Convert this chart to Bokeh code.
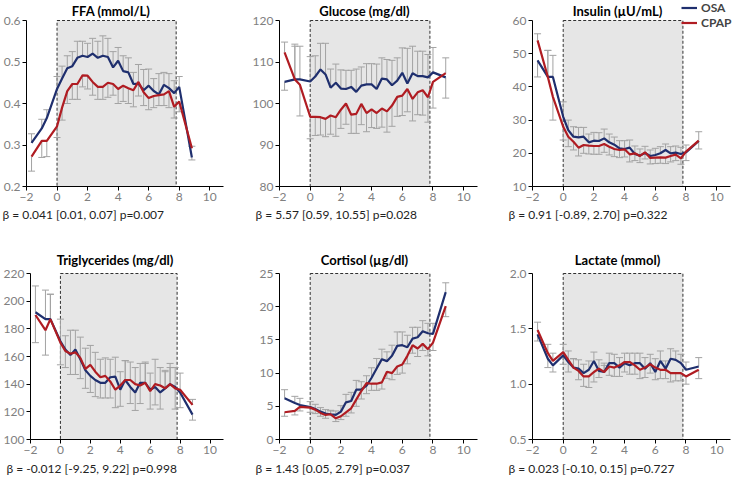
from bokeh.plotting import figure
from bokeh.layouts import column, row
from bokeh.models import (BoxAnnotation, Label, FixedTicker, PrintfTickFormatter,
                          Range1d, Legend, LegendItem, Title)
from bokeh.embed import file_html
from bokeh.resources import INLINE

# ---------------- data ----------------
hours = [-1.67, -1, -0.67, 0, 0.33, 0.67, 1, 1.33, 1.67, 2, 2.33, 2.67, 3, 3.33, 3.67,
         4, 4.33, 4.67, 5, 5.33, 5.67, 6, 6.33, 6.67, 7, 7.33, 7.67, 8, 8.83]
sleep_start = 0
sleep_end = 7.8
x_ticks = [-2, 0, 2, 4, 6, 8, 10]
x_min, x_max = -2, 10.9

ffa_title = "FFA (mmol/L)"
ffa_beta = "β = 0.041 [0.01, 0.07] p=0.007"
ffa_ticks = [0.2, 0.3, 0.4, 0.5, 0.6]
ffa_osa = [0.305, 0.34, 0.365, 0.435, 0.46, 0.485, 0.49, 0.51, 0.515, 0.512, 0.52, 0.51, 0.515, 0.512, 0.487,
           0.503, 0.478, 0.475, 0.447, 0.448, 0.432, 0.443, 0.43, 0.422, 0.445, 0.437, 0.425, 0.44, 0.27]
ffa_cpap = [0.272, 0.31, 0.31, 0.345, 0.39, 0.43, 0.447, 0.447, 0.468, 0.467, 0.452, 0.44, 0.44, 0.45, 0.447,
            0.435, 0.443, 0.437, 0.432, 0.452, 0.427, 0.413, 0.418, 0.42, 0.422, 0.43, 0.392, 0.405, 0.292]
ffa_osa_se = [0.022, 0.022, 0.02, 0.03, 0.03, 0.03, 0.035, 0.04, 0.035, 0.033, 0.037, 0.04, 0.048, 0.045, 0.038,
              0.032, 0.037, 0.035, 0.028, 0.03, 0.05, 0.04, 0.03, 0.05, 0.03, 0.035, 0.03, 0.025, 0.006]
ffa_cpap_se = [0.035, 0.04, 0.038, 0.027, 0.03, 0.03, 0.037, 0.037, 0.028, 0.032, 0.032, 0.03, 0.03, 0.035, 0.027,
               0.035, 0.038, 0.037, 0.04, 0.042, 0.032, 0.028, 0.028, 0.025, 0.027, 0.04, 0.027, 0.025, 0.005]

glu_title = "Glucose (mg/dl)"
glu_beta = "β = 5.57 [0.59, 10.55] p=0.028"
glu_ticks = [80, 90, 100, 110, 120]
glu_osa = [105.2, 105.8, 105.8, 105.3, 106.5, 108.2, 107, 103.8, 105, 103.6, 103.5, 104, 102.8, 104.3, 104.6,
           104.6, 103.5, 106, 105.8, 104.4, 105.5, 107.4, 104.8, 107.3, 106.6, 106.6, 106.3, 107.5, 106.3]
glu_cpap = [112.3, 105.8, 104.5, 96.8, 96.8, 96.7, 96.3, 97.1, 96.7, 98.5, 100, 97.3, 97.5, 99.9, 97.7,
            98.6, 97.7, 98.8, 98.1, 99.5, 101.6, 101.9, 103.5, 101.1, 102.7, 103.2, 101.5, 105.2, 107.3]
glu_osa_se = [2, 8, 8, 6, 5, 6.3, 7.5, 4.5, 4.5, 4.5, 4.5, 4, 5.5, 4.5, 5,
              5, 6, 5, 4.8, 6, 5.5, 6, 8.5, 6.5, 6, 6, 5.5, 6, 5]
glu_cpap_se = [2.5, 8.5, 7.5, 5.3, 4.5, 4.3, 4.3, 4.5, 4.6, 4.5, 5, 4.5, 4.7, 5, 4.5,
               4.4, 3.7, 4.5, 5, 5, 4.7, 4.8, 5.5, 5.3, 5.4, 6, 6, 6.3, 3.7]

ins_title = "Insulin (µU/mL)"
ins_beta = "β = 0.91 [-0.89, 2.70] p=0.322"
ins_ticks = [10, 20, 30, 40, 50, 60]
ins_osa = [48, 43, 43, 31, 27, 25, 24.8, 25, 23.3, 23.8, 23.7, 24.5, 23.3, 22.6, 21.5,
           21.3, 21.7, 19.8, 19.3, 20.1, 19.2, 19.5, 20, 21, 20, 20.2, 19.8, 20.3, 23.7]
ins_cpap = [54, 43, 37, 28, 25, 23.5, 21.7, 22.5, 22.3, 22.2, 22.2, 22.8, 22, 21.3, 21,
            21.2, 19.7, 20, 19.2, 20.3, 18.6, 18.7, 18.8, 18.7, 19.2, 19.6, 18.5, 20.5, 23.8]
ins_osa_se = [5, 8, 6.5, 4.5, 3, 3, 3, 2.8, 2.5, 2.5, 2.5, 2.8, 2.5, 2.3, 2.3,
              2.5, 2.3, 2, 2, 1.8, 1.8, 2, 2, 1.8, 2, 2, 2, 2.5, 2.4]
ins_cpap_se = [2, 8, 7, 4, 3, 2.5, 2.5, 2.5, 2.5, 2.5, 2.5, 2.5, 2.5, 2.3, 2.3,
               2.3, 2.3, 2.2, 2, 1.8, 1.8, 1.8, 1.8, 1.8, 1.8, 1.8, 1.8, 2, 2.7]

tg_title = "Triglycerides (mg/dl)"
tg_beta = "β = -0.012 [-9.25, 9.22] p=0.998"
tg_ticks = [100, 120, 140, 160, 180, 200, 220]
tg_osa = [192, 187, 187, 171, 165, 161, 165, 158, 150, 146, 143, 141, 141, 145, 145.5,
          136, 143, 138, 134, 141, 141, 136, 138, 134, 137, 140, 138, 134, 118]
tg_cpap = [190, 179, 187, 170, 164, 162, 163, 159, 151, 154, 149, 145, 146, 142, 136,
           139, 143, 143, 140, 139, 141, 135, 140, 139, 137, 140, 137, 136, 125]
tg_osa_se = [19, 21, 18, 16, 10, 14, 14, 14, 13, 12, 12, 11, 11, 13, 14,
             12, 14, 12, 13, 14, 15, 12, 13, 12, 12, 12, 14, 11, 4]
tg_cpap_se = [20, 18, 18, 16, 12, 17, 16, 15, 15, 14, 14, 13, 13, 12, 13,
              10, 14, 13, 12, 13, 14, 13, 18, 13, 13, 15, 15, 12, 4]

cor_title = "Cortisol (µg/dl)"
cor_beta = "β = 1.43 [0.05, 2.79] p=0.037"
cor_ticks = [0, 5, 10, 15, 20, 25]
cor_osa = [6.2, 5.5, 5.2, 4.9, 4.6, 4.2, 3.9, 3.8, 3.7, 4.2, 5.6, 5.8, 7.5, 7.5, 8.1,
           9.3, 10.7, 12.1, 11.8, 12.6, 14.1, 14.2, 13.9, 15.2, 15.4, 16.3, 16.0, 15.9, 22.2]
cor_cpap = [4.1, 4.3, 4.9, 4.8, 4.5, 4.0, 3.7, 3.8, 3.2, 3.5, 4.1, 4.7, 6.0, 7.3, 8.5,
            8.4, 8.4, 8.6, 10.2, 10.0, 11.0, 11.3, 12.6, 14.2, 13.7, 14.4, 13.6, 14.6, 20.1]
cor_osa_se = [1.3, 1.0, 1.0, 0.8, 0.7, 0.6, 0.6, 0.6, 0.6, 0.9, 1.2, 1.3, 1.4, 1.2, 1.2,
              1.5, 1.5, 1.5, 1.4, 1.6, 2.1, 2.0, 1.8, 1.7, 1.5, 1.6, 1.5, 1.6, 1.4]
cor_cpap_se = [0.6, 0.6, 0.6, 0.7, 0.6, 0.5, 0.5, 0.5, 0.5, 0.5, 0.6, 0.7, 1.0, 1.2, 1.1,
               1.0, 1.0, 1.0, 1.0, 1.0, 1.2, 1.3, 1.2, 1.2, 1.2, 1.0, 1.0, 1.2, 1.6]

lac_title = "Lactate (mmol)"
lac_beta = "β = 0.023 [-0.10, 0.15] p=0.727"
lac_ticks = [0.5, 1.0, 1.5, 2.0]
lac_osa = [1.45, 1.23, 1.17, 1.26, 1.20, 1.15, 1.14, 1.10, 1.13, 1.21, 1.12, 1.11, 1.19, 1.19, 1.15,
           1.19, 1.17, 1.19, 1.19, 1.14, 1.19, 1.11, 1.21, 1.14, 1.23, 1.22, 1.19, 1.13, 1.16]
lac_cpap = [1.49, 1.28, 1.21, 1.29, 1.22, 1.15, 1.12, 1.07, 1.07, 1.11, 1.14, 1.11, 1.16, 1.15, 1.17,
            1.20, 1.20, 1.17, 1.13, 1.15, 1.18, 1.15, 1.13, 1.13, 1.10, 1.10, 1.10, 1.07, 1.13]
lac_osa_se = [0.06, 0.08, 0.06, 0.08, 0.09, 0.08, 0.08, 0.08, 0.08, 0.08, 0.06, 0.06, 0.09, 0.08, 0.08,
              0.08, 0.08, 0.09, 0.09, 0.08, 0.08, 0.07, 0.09, 0.07, 0.09, 0.08, 0.08, 0.07, 0.08]
lac_cpap_se = [0.07, 0.08, 0.07, 0.07, 0.08, 0.08, 0.08, 0.09, 0.1, 0.09, 0.08, 0.08, 0.08, 0.08, 0.07,
               0.08, 0.08, 0.08, 0.08, 0.09, 0.08, 0.08, 0.08, 0.08, 0.08, 0.07, 0.07, 0.07, 0.08]

series_names = ["OSA", "CPAP"]

# ---------------- style ----------------
FONT = "Lato"
BLUE = "#1f2f6e"
RED = "#b01c22"
ERR = "#a3a3a3"
SHADE = "#e6e6e6"
DATA_H = 166  # pixel height of the data area of every panel
LEG_ROW = 13


def panel(title, beta, ticks, fmt, osa, cpap, osa_se, cpap_se, width, height,
          b_left, b_right, ext_top, ext_right, title_dy, beta_standoff, legend=False):
    # The frame extends ext_top px above the data area (so that the title and the
    # legend can live inside the frame); the axes are bounded to the data area.
    b_bottom = height - DATA_H - ext_top
    frame_w = width - b_left - b_right
    data_w = frame_w - ext_right
    y0, y1 = ticks[0], ticks[-1]
    y_end = y1 + (y1 - y0) * ext_top / DATA_H
    x_end = x_max + (x_max - x_min) * ext_right / data_w
    p = figure(width=width, height=height, output_backend="svg", toolbar_location=None,
               x_range=Range1d(x_min, x_end), y_range=Range1d(y0, y_end),
               min_border_left=b_left, min_border_right=b_right,
               min_border_top=0, min_border_bottom=b_bottom)
    p.title.visible = False
    p.outline_line_color = None
    p.grid.visible = False
    p.background_fill_color = "white"
    p.border_fill_color = "white"

    p.add_layout(BoxAnnotation(left=sleep_start, right=sleep_end, bottom=y0, top=y1,
                               fill_color=SHADE, fill_alpha=1,
                               line_color="#303030", line_alpha=1, line_dash="3 2",
                               line_width=1, level="underlay"))

    # one-sided error bars pointing away from the other series
    for vals, se, other in ((osa, osa_se, cpap), (cpap, cpap_se, osa)):
        ends = []
        for v, e, o in zip(vals, se, other):
            ends.append(v + e if v >= o else v - e)
        p.segment(x0=hours, y0=vals, x1=hours, y1=ends, line_color=ERR, line_width=1)
        p.scatter(x=hours, y=ends, marker="dash", size=7, line_color=ERR, line_width=1)

    r_osa = p.line(hours, osa, line_color=BLUE, line_width=2.2)
    r_cpap = p.line(hours, cpap, line_color=RED, line_width=2.2)

    for ax in (p.xaxis[0], p.yaxis[0]):
        ax.axis_line_color = "#000000"
        ax.major_tick_line_color = "#000000"
        ax.major_tick_out = 4
        ax.major_tick_in = 0
        ax.minor_tick_line_color = None
        ax.major_label_text_color = "#808080"
        ax.major_label_text_font = FONT
        ax.major_label_text_font_size = "12px"
        ax.major_label_standoff = 2
    p.xaxis.bounds = (x_min, x_max)
    p.yaxis.bounds = (y0, y1)
    p.xaxis.ticker = FixedTicker(ticks=x_ticks)
    p.yaxis.ticker = FixedTicker(ticks=ticks)
    if fmt:
        p.yaxis.formatter = PrintfTickFormatter(format=fmt)

    p.add_layout(Label(x=data_w / 2 - 14, y=DATA_H + ext_top - title_dy,
                       x_units="screen", y_units="screen",
                       text=title, text_align="center", text_baseline="middle",
                       text_font=FONT, text_font_size="13px", text_font_style="bold",
                       text_color="#000000"))
    p.add_layout(Title(text=beta, align="left", offset=-24, standoff=beta_standoff,
                       text_font=FONT, text_font_size="12px", text_font_style="normal",
                       text_color="#222222"), "below")

    if legend:
        lg = Legend(items=[LegendItem(label=series_names[0], renderers=[r_osa]),
                           LegendItem(label=series_names[1], renderers=[r_cpap])],
                    location=(data_w - 49, DATA_H + ext_top - 4 - 2 * LEG_ROW),
                    orientation="vertical",
                    label_text_font=FONT, label_text_font_size="12px", label_text_font_style="bold",
                    label_height=LEG_ROW, glyph_height=LEG_ROW, glyph_width=16, label_standoff=4,
                    spacing=0, padding=0, margin=0, border_line_color=None,
                    background_fill_alpha=0)
        p.add_layout(lg, "center")
    return p


W1, W2, W3 = 245, 253, 241
H1, H2 = 238, 239

p1 = panel(ffa_title, ffa_beta, ffa_ticks, "%.1f", ffa_osa, ffa_cpap, ffa_osa_se, ffa_cpap_se,
           W1, H1, 26, 22, 20, 0, 10, 2)
p2 = panel(glu_title, glu_beta, glu_ticks, None, glu_osa, glu_cpap, glu_osa_se, glu_cpap_se,
           W2, H1, 34, 21, 20, 0, 10, 2)
p3 = panel(ins_title, ins_beta, ins_ticks, None, ins_osa, ins_cpap, ins_osa_se, ins_cpap_se,
           W3, H1, 34, 0, 20, 9, 10, 2, legend=True)
p4 = panel(tg_title, tg_beta, tg_ticks, None, tg_osa, tg_cpap, tg_osa_se, tg_cpap_se,
           W1, H2, 26, 22, 35, 0, 21, 4)
p5 = panel(cor_title, cor_beta, cor_ticks, None, cor_osa, cor_cpap, cor_osa_se, cor_cpap_se,
           W2, H2, 34, 21, 35, 0, 21, 4)
p6 = panel(lac_title, lac_beta, lac_ticks, "%.1f", lac_osa, lac_cpap, lac_osa_se, lac_cpap_se,
           W3, H2, 34, 0, 35, 9, 21, 4)

layout = column(row(p1, p2, p3, spacing=0), row(p4, p5, p6, spacing=0), spacing=0)

open("out.html", "w").write(file_html(layout, INLINE))
